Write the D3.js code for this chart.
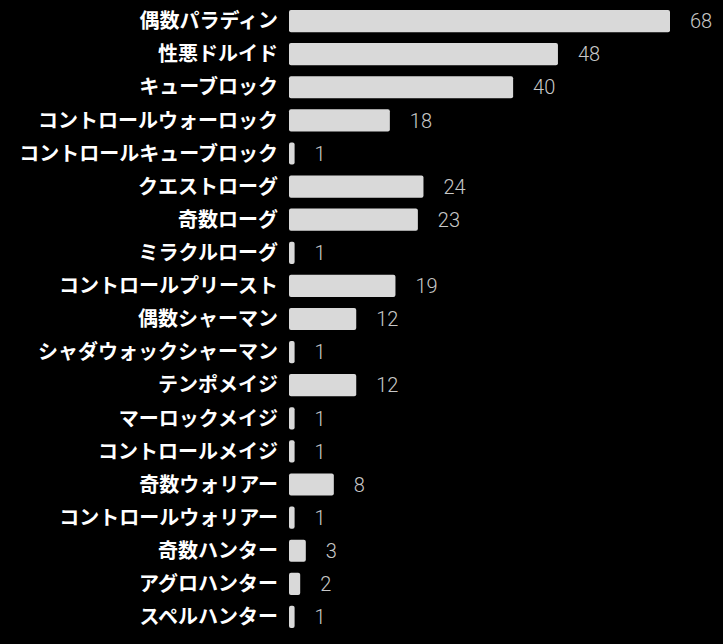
<!DOCTYPE html>
<html>
<head>
<meta charset="utf-8">
<script src="https://cdn.jsdelivr.net/npm/d3@7"></script>
<style>
  body { margin: 0; background: #000; }
  .label { font-family: "Noto Sans CJK JP", sans-serif; font-weight: bold; fill: #fff; }
  .value { font-family: "Roboto", "Noto Sans", sans-serif; font-weight: 300; fill: #c8c8c8; }
</style>
</head>
<body>
<div id="canvas"></div>
<script>
const decks = [
  "偶数パラディン", "性悪ドルイド", "キューブロック", "コントロールウォーロック",
  "コントロールキューブロック", "クエストローグ", "奇数ローグ", "ミラクルローグ",
  "コントロールプリースト", "偶数シャーマン", "シャダウォックシャーマン", "テンポメイジ",
  "マーロックメイジ", "コントロールメイジ", "奇数ウォリアー", "コントロールウォリアー",
  "奇数ハンター", "アグロハンター", "スペルハンター"
];
const counts = [68, 48, 40, 18, 1, 24, 23, 1, 19, 12, 1, 12, 1, 1, 8, 1, 3, 2, 1];

const data = decks.map((d, i) => ({ name: d, count: counts[i] }));

// DIMENSIONS
const width = 723;
const height = 644;
const margin = { top: 4.5, right: 53, bottom: 10, left: 289 };

// CANVAS
const canvas = d3.select("#canvas")
  .append("svg")
  .attr("width", width)
  .attr("height", height)
  .style("background", "#000");

const plot = canvas.append("g")
  .attr("transform", `translate(${margin.left}, ${margin.top})`);

// SCALES
const xScale = d3.scaleLinear()
  .domain([0, 68])
  .range([0, 381]);

const yScale = d3.scaleBand()
  .domain(decks)
  .range([0, 629])
  .paddingInner(0.33)
  .paddingOuter(0.165);

// BARS
plot.selectAll("rect")
  .data(data)
  .enter()
  .append("rect")
  .attr("x", 0)
  .attr("y", d => yScale(d.name))
  .attr("width", d => xScale(d.count))
  .attr("height", yScale.bandwidth())
  .attr("rx", 2)
  .style("fill", "#d9d9d9");

// CATEGORY LABELS
plot.selectAll(".label")
  .data(data)
  .enter()
  .append("text")
  .attr("class", "label")
  .attr("x", -11)
  .attr("y", d => yScale(d.name) + yScale.bandwidth() / 2)
  .attr("dy", "0.36em")
  .attr("text-anchor", "end")
  .style("font-size", "20px")
  .text(d => d.name);

// VALUE LABELS
plot.selectAll(".value")
  .data(data)
  .enter()
  .append("text")
  .attr("class", "value")
  .attr("x", d => xScale(d.count) + 20)
  .attr("y", d => yScale(d.name) + yScale.bandwidth() / 2)
  .attr("dy", "0.36em")
  .style("font-size", "20px")
  .text(d => d.count);
</script>
</body>
</html>
